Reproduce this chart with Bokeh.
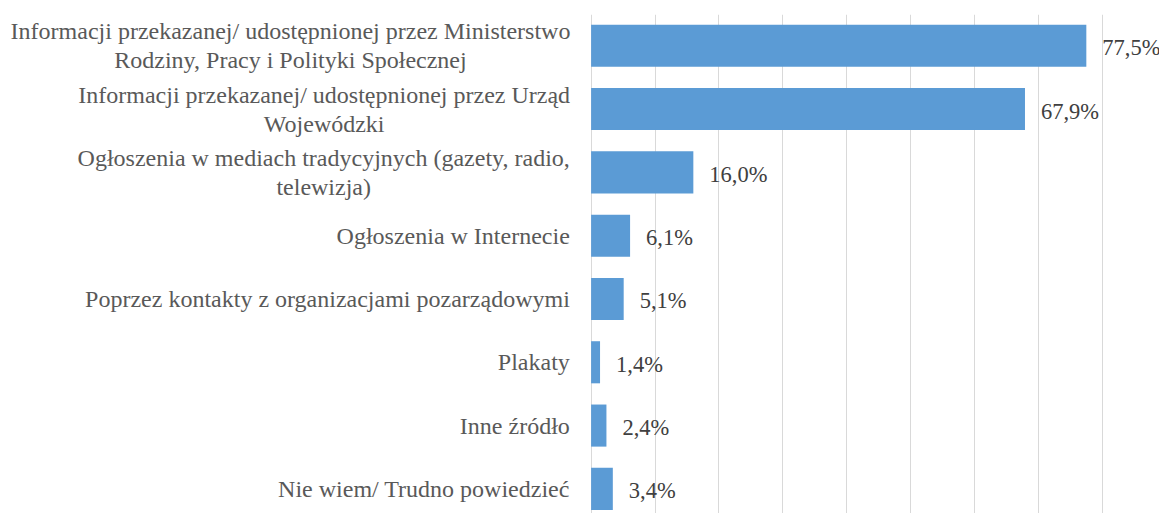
from bokeh.plotting import figure
from bokeh.models import Range1d, FixedTicker, LabelSet, ColumnDataSource
from bokeh.embed import file_html
from bokeh.resources import INLINE

categories = [
    "Informacji przekazanej/ udostępnionej przez Ministerstwo\nRodziny, Pracy i Polityki Społecznej",
    "Informacji przekazanej/ udostępnionej przez Urząd\nWojewódzki",
    "Ogłoszenia w mediach tradycyjnych (gazety, radio,\ntelewizja)",
    "Ogłoszenia w Internecie",
    "Poprzez kontakty z organizacjami pozarządowymi",
    "Plakaty",
    "Inne źródło",
    "Nie wiem/ Trudno powiedzieć",
]
values = [77.5, 67.9, 16.0, 6.1, 5.1, 1.4, 2.4, 3.4]
value_labels = ["77,5%", "67,9%", "16,0%", "6,1%", "5,1%", "1,4%", "2,4%", "3,4%"]
grid_ticks = [0, 10, 20, 30, 40, 50, 60, 70, 80]

FONT = "Liberation Serif"
positions = list(range(len(categories)))

# layout: pixel scale 6.39 px per percent, zero at x=590.6
PX = 6.39
X0 = 590.6
W, H = 1159, 513

p = figure(width=W, height=H, output_backend="svg", toolbar_location=None,
           x_range=Range1d(-X0 / PX, (W - X0) / PX), y_range=Range1d(7.389, -0.494),
           min_border_left=0, min_border_right=0, min_border_top=14, min_border_bottom=0)
p.outline_line_color = None
p.background_fill_color = "white"
p.border_fill_color = "white"
p.xaxis.visible = False
p.yaxis.visible = False
p.ygrid.visible = False
p.xgrid.ticker = FixedTicker(ticks=grid_ticks)
p.xgrid.grid_line_color = "#d9d9d9"
p.xgrid.grid_line_width = 1

src = ColumnDataSource(dict(y=positions, v=values, lab=value_labels))
p.hbar(y="y", left=0, right="v", height=0.665, source=src, fill_color="#5B9BD5", line_color=None)

p.add_layout(LabelSet(x="v", y="y", text="lab", source=src, x_offset=16, y_offset=-2,
                      text_font=FONT, text_font_size="22.5px", text_color="#404040",
                      text_baseline="middle", text_align="left"))

# category labels: multi-line ones centred, single-line ones right-aligned at the axis
right_edge = (569.3 - X0) / PX
ml_centre_px = {0: 290.0, 1: 323.7, 2: 323.2}
cat_x, cat_align = [], []
for i, c in enumerate(categories):
    if "\n" in c:
        cat_x.append((ml_centre_px[i] - X0) / PX)
        cat_align.append("center")
    else:
        cat_x.append(right_edge)
        cat_align.append("right")
csrc = ColumnDataSource(dict(x=cat_x, y=positions, t=categories, a=cat_align))
p.text(x="x", y="y", text="t", text_align="a", text_baseline="middle", source=csrc,
       text_font=FONT, text_font_size="24px", text_color="#595959", text_line_height=1.12)

open("out.html", "w").write(file_html(p, INLINE))
